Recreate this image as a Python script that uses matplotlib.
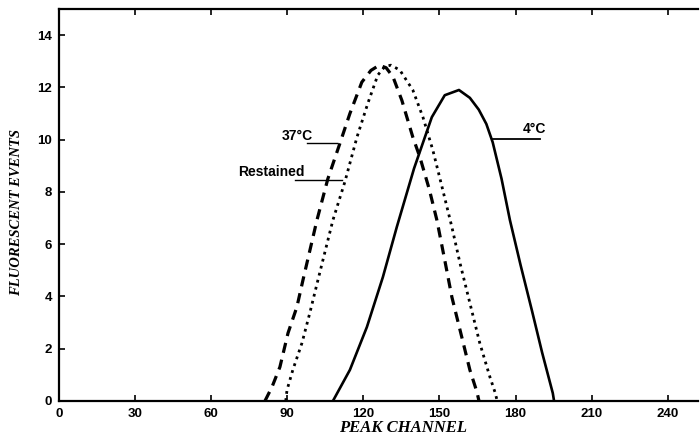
import matplotlib
matplotlib.use('Agg')
import matplotlib.pyplot as plt

# 37°C (dashed)
x_37 = [81.2, 84.0, 87.1, 90.3, 93.8, 96.2, 101.7, 106.0, 110.8, 114.7, 119.4, 123.0, 126.3,
        129.0, 131.7, 135.2, 139.5, 142.3, 146.0, 149.0, 152.1, 154.9, 158.8, 162.0, 164.8, 165.6]
y_37 = [0.0, 0.54, 1.3, 2.6, 3.6, 4.63, 6.92, 8.5, 9.87, 11.0, 12.2, 12.65, 12.85,
        12.75, 12.4, 11.5, 10.1, 9.33, 8.1, 6.92, 5.39, 3.98, 2.45, 1.19, 0.34, 0.0]

# Restained (dotted)
x_re = [89.4, 89.9, 92.2, 95.8, 98.9, 102.1, 108.0, 112.7, 117.5, 121.8, 125.7, 128.5, 130.9, 134.4,
        139.5, 143.5, 147.4, 151.0, 154.9, 158.1, 162.0, 165.9, 169.9, 171.9, 172.8]
y_re = [0.0, 0.42, 1.19, 2.22, 3.37, 4.63, 6.92, 8.38, 10.1, 11.4, 12.47, 12.8, 12.85, 12.66,
        11.9, 10.86, 9.6, 8.2, 6.66, 5.28, 3.75, 2.22, 0.92, 0.34, 0.0]

# 4°C (solid)
x_4 = [108.0, 114.7, 121.4, 127.7, 133.2, 140.0, 147.0, 152.1, 157.7, 162.0, 165.5, 168.5,
       171.0, 174.5, 177.8, 182.0, 186.5, 190.5, 194.7, 195.2]
y_4 = [0.0, 1.19, 2.83, 4.74, 6.66, 8.9, 10.86, 11.7, 11.9, 11.6, 11.15, 10.6,
       9.9, 8.5, 6.92, 5.2, 3.45, 1.85, 0.3, 0.0]

x_ticks = [0, 30, 60, 90, 120, 150, 180, 210, 240]
y_ticks = [0, 2, 4, 6, 8, 10, 12, 14]

fig = plt.figure(figsize=(7, 4.38), dpi=100)
ax = fig.add_axes([0.0843, 0.0845, 0.913, 0.895])

ax.plot(x_37, y_37, color='black', lw=2.3, linestyle=(0, (3.2, 2.2)))
ax.plot(x_re, y_re, color='black', lw=2.0, linestyle=(0, (1.0, 1.6)))
ax.plot(x_4, y_4, color='black', lw=1.9)

# leader lines and labels
ax.plot([97.8, 109.6], [9.87, 9.87], color='black', lw=1.0)
ax.plot([92.9, 111.5], [8.45, 8.45], color='black', lw=1.0)
ax.plot([171.0, 189.6], [10.02, 10.02], color='black', lw=1.3)
bold = dict(family=['Liberation Sans', 'DejaVu Sans'], fontweight='bold', fontsize=10)
ax.text(87.9, 10.15, '37°C', ha='left', va='center', **bold)
ax.text(70.6, 8.76, 'Restained', ha='left', va='center', **bold)
ax.text(182.9, 10.4, '4°C', ha='left', va='center', **bold)

ax.set_xlim(0, 252)
ax.set_ylim(0, 15)
ax.set_xticks(x_ticks)
ax.set_yticks(y_ticks)
ax.tick_params(direction='in', length=4, width=1.2, labelsize=9.5, pad=5, top=True)
for lab in ax.get_xticklabels() + ax.get_yticklabels():
    lab.set_fontweight('bold')
    lab.set_family('Liberation Sans')

ax.spines['right'].set_visible(False)
for s in ['left', 'bottom', 'top']:
    ax.spines[s].set_linewidth(1.6)

serif = dict(family='Liberation Serif', fontweight='bold', style='italic')
ax.set_xlabel('PEAK CHANNEL', fontsize=12, **serif)
ax.xaxis.set_label_coords(0.538, -0.069)
ax.xaxis.label.set_va('center')
ax.set_ylabel('FLUORESCENT EVENTS', fontsize=10.5, **serif)
ax.yaxis.set_label_coords(-0.066, 0.48)
ax.yaxis.label.set_va('center')

fig.savefig('out.png', dpi=100)
